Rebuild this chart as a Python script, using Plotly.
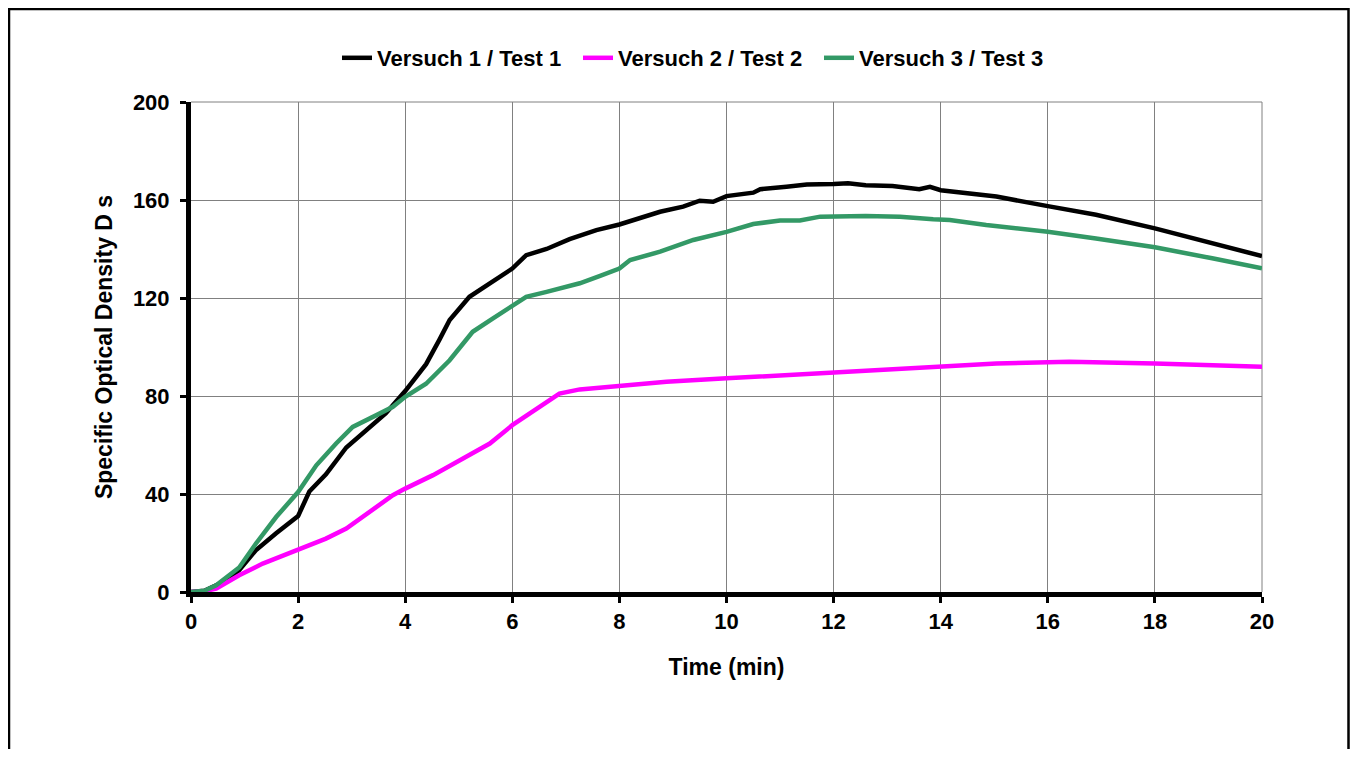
import plotly.graph_objects as go

# ---- data ----
t1 = [0, 0.25, 0.47, 0.7, 0.9, 1.21, 1.59, 2.0, 2.21, 2.52, 2.9, 3.27, 3.64, 4.0, 4.39, 4.64, 4.83,
      5.2, 5.51, 6.0, 6.26, 6.64, 7.07, 7.57, 8.0, 8.26, 8.76, 9.19, 9.5, 9.75, 10.0, 10.5, 10.63,
      11.12, 11.5, 12.0, 12.27, 12.6, 13.1, 13.6, 13.8, 14.0, 15.04, 16.0, 16.9, 18.0, 19.07, 20.0]
v1 = [0, 0.5, 2.7, 5.5, 8.9, 17, 24, 31, 41, 48, 59, 66, 73, 82, 93, 103, 111,
      120.5, 125, 132, 137.5, 140, 144, 147.7, 150, 151.8, 155.2, 157.3, 159.7, 159.3, 161.6, 163, 164.4,
      165.4, 166.3, 166.5, 166.8, 166, 165.7, 164.4, 165.4, 164, 161.4, 157.5, 154, 148.4, 142.3, 137.1]

t2 = [0, 0.25, 0.47, 0.9, 1.34, 1.9, 2.52, 2.9, 3.4, 3.77, 4.0, 4.52, 5.08, 5.58, 6.0, 6.32, 6.57,
      6.88, 7.26, 7.64, 8.0, 8.88, 10.0, 11.12, 12.0, 13.1, 14.17, 15.04, 16.4, 18.0, 20.0]
v2 = [0, 0.3, 1.4, 6.8, 11.6, 16.3, 21.8, 25.9, 34, 39.5, 42.2, 47.7, 54.5, 60.6, 68.1, 72.8, 76.9,
      81, 82.7, 83.5, 84, 85.8, 87.2, 88.5, 89.9, 91.2, 92.2, 93.3, 94, 93.3, 91.9]

t3 = [0, 0.25, 0.47, 0.9, 1.21, 1.59, 2.0, 2.34, 2.71, 3.02, 3.52, 3.77, 4.0, 4.39, 4.83, 5.26, 5.64,
      6.0, 6.26, 6.64, 7.26, 7.64, 8.0, 8.2, 8.76, 9.38, 10.0, 10.5, 11.0, 11.37, 11.75, 12.6, 13.24,
      13.86, 14.17, 14.85, 16.0, 16.9, 18.0, 19.07, 20.0]
v3 = [0, 0.5, 2.7, 10, 19.7, 30.6, 40.8, 51.7, 60.6, 67.4, 72.8, 75.6, 79.7, 85, 94.6, 106.2, 111.7,
      117.1, 120.5, 122.5, 126, 129, 132, 135.5, 138.9, 143.7, 147, 150.2, 151.6, 151.6, 153.2, 153.5, 153.2,
      152.1, 151.8, 149.8, 147, 144.3, 140.7, 136.2, 132.1]

names = ["Versuch 1 / Test 1", "Versuch 2 / Test 2", "Versuch 3 / Test 3"]
colors = ["#000000", "#FF00FF", "#339966"]
x_ticks = list(range(0, 21, 2))
y_ticks = list(range(0, 201, 40))

FONT = "Liberation Sans, Arial, sans-serif"

fig = go.Figure()
for t, v, n, c in zip([t1, t2, t3], [v1, v2, v3], names, colors):
    fig.add_trace(go.Scatter(x=t, y=v, mode="lines", name=n,
                             line=dict(color=c, width=4.5)))

# the page body adds an 8px offset, so the figure is laid out 8px up/left
W, H = 1342, 741
L, R, T, B = 183, 88, 94, 157
pw, ph = W - L - R, H - T - B

def px_x(p):
    return (p - L) / pw

def px_y(p):
    return (H - B - p) / ph

tickfont = dict(family=FONT, size=22, color="black", weight="bold")
titlefont = dict(family=FONT, size=23, color="black", weight="bold")

fig.update_layout(
    width=W, height=H,
    margin=dict(l=L, r=R, t=T, b=B),
    plot_bgcolor="white", paper_bgcolor="white",
    font=dict(family=FONT, size=22, color="black", weight="bold"),
    showlegend=True,
    legend=dict(orientation="h", x=px_x(329), xanchor="left", y=px_y(50), yanchor="middle",
                font=dict(family=FONT, size=22, color="black", weight="bold"),
                itemwidth=30, entrywidth=196, entrywidthmode="pixels",
                bgcolor="rgba(0,0,0,0)", traceorder="normal"),
    xaxis=dict(range=[0, 20], tickvals=x_ticks, ticktext=[str(x) for x in x_ticks],
               showgrid=True, gridcolor="#808080", gridwidth=1,
               showline=True, linecolor="black", linewidth=5,
               ticks="outside", ticklen=6, tickwidth=3, tickcolor="black",
               zeroline=False, ticklabelstandoff=0,
               tickfont=tickfont,
               title=dict(text="Time (min)", standoff=27, font=titlefont)),
    yaxis=dict(range=[0, 200], tickvals=y_ticks, ticktext=[str(y) for y in y_ticks],
               showgrid=True, gridcolor="#808080", gridwidth=1,
               showline=True, linecolor="black", linewidth=5,
               ticks="outside", ticklen=6, tickwidth=3, tickcolor="black",
               zeroline=False, ticklabelstandoff=6,
               tickfont=tickfont,
               title=dict(text="Specific Optical Density D s", standoff=15, font=titlefont)),
)

# grid lines on top and right edges
fig.add_shape(type="line", xref="paper", yref="paper", x0=0, x1=1, y0=1, y1=1,
              line=dict(color="#808080", width=1), layer="below")
fig.add_shape(type="line", xref="paper", yref="paper", x0=1, x1=1, y0=0, y1=1,
              line=dict(color="#808080", width=1), layer="below")
# outer frame (bottom edge falls outside the page, as in the reference)
fig.add_shape(type="rect", xref="paper", yref="paper",
              x0=px_x(1.0), x1=px_x(W - 1.5), y0=px_y(H + 40), y1=px_y(1.0),
              line=dict(color="black", width=2.5), fillcolor="rgba(0,0,0,0)")

fig.write_html("out.html")
